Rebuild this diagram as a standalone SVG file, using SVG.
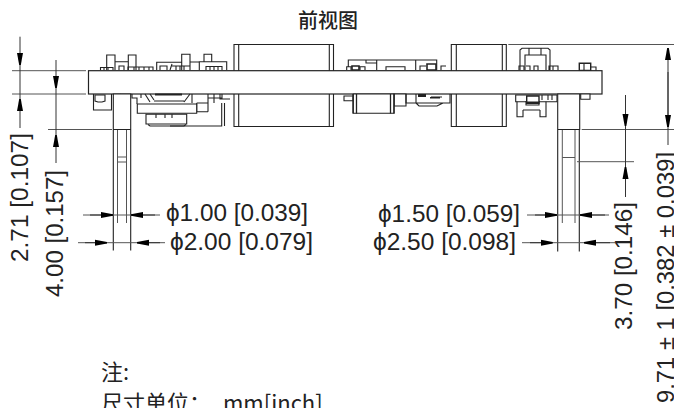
<svg xmlns="http://www.w3.org/2000/svg" width="674" height="408" viewBox="0 0 674 408">
<style>
.t{font-family:"Liberation Sans",Arial,sans-serif;font-size:23px;fill:#222}
.c{font-family:"Noto Sans CJK SC","Liberation Sans",sans-serif;font-size:22px;fill:#222}
.o{fill:#fff;stroke:#222;stroke-width:1.1}
.l{fill:none;stroke:#222;stroke-width:1.1}
.k{fill:#222;stroke:none}
.d{fill:none;stroke:#333;stroke-width:1}
.e{fill:none;stroke:#555;stroke-width:1}
</style>
<defs>
<marker id="a" markerUnits="userSpaceOnUse" markerWidth="14" markerHeight="8" refX="12" refY="4" orient="auto"><path d="M0 1L12 3.2V4.8L0 7Z" fill="#000"/></marker>
</defs>
<rect width="674" height="408" fill="#fff"/>
<g id="title"><text class="c" x="298" y="28" style="font-size:20px;font-weight:500">前视图</text></g>
<g id="capacitors">
<path class="o" d="M234 44.5H333.5V126.5H234Z"/>
<path class="l" d="M238.7 44.5V126.5M329.3 44.5V126.5"/>
<path class="o" d="M451.3 44.5H506.3V126.5H451.3Z"/>
<path class="l" d="M456.3 44.5V126.5M502.3 44.5V126.5"/>
</g>
<g id="top-components">
<path class="l" d="M106.7 70V55H115V70M128.3 70V55H136V70M115 61.7H128.3"/>
<path class="l" d="M100.5 70V67.5H113V70M104 67.5V70M108 67.5V70M119 70V66H124V70M128 70V67H153V70M134 67V70M139 67V70M144 67V70M149 67V70"/>
<path class="l" d="M156.7 70V62.3H181.7M181.7 70V54.3H190V70M204 62V54.3H211.7V62M190 62H199.3M199.3 70V61.7H226.7V70M160 70V66H167V70M170 70L172 64M172 66H190M176 70V66M180 70V66M184 70V66M206 70V66.5H222V70M210 66.5V70M214 66.5V70M218 66.5V70"/>
<path class="l" d="M348.3 67V60H436.7V70M366 60V63H376.7V70M376.7 60V63M386 70V66.7H405V70M415.7 60V70M420 70V66H426M346.7 70V66.7H365V70M351 66.7V70M360 66.7V70"/>
<path class="o" d="M352 66H359V70H352ZM427 64H436V70H427Z" style="stroke-width:1.6"/>
<path class="l" d="M441 70V66H446"/>
<path class="l" d="M520 70V50L522 48.3H548L550 50V70M525 70V55H546V70M529 55V48.3M541 55V48.3M526 66H530V70M534 70V66H538V70M549 70V66H558V70M553 66V70"/>
<path class="l" d="M519 70V66H524V70"/>
<path class="o" d="M579.3 63.3H590.7V70.5H579.3Z" style="stroke-width:1.4"/>
<path class="l" d="M584 63.3V70.5M590.7 67H596V70.5"/>
</g>
<g id="board"><rect class="o" x="88.5" y="70.7" width="513.5" height="23.3" style="stroke-width:1.2"/></g>
<g id="bottom-components">
<path class="l" d="M93.5 94V110H111.5V94"/>
<path class="o" d="M95 95H105V101L102 102H98L95 101Z"/>
<path class="l" d="M120 94L124 99M113 98H122M132 94V98H137V104M141 94V98M145 94L150 102M150 94L154 100M184 102L190 94M192 94V103M196.7 103H208V94M208 111.7H196.7V103M208 103V111.7M208 98H222V94M214 94V103M220 94V99H230M221.7 103V126H170M224.5 103V126M154 101H184"/>
<path class="o" d="M137.3 104H196.7V113.3H137.3Z"/>
<path class="o" d="M146 114.3H186.7V124H146Z"/>
<path class="l" d="M148 124.5L150 126H184L186 124.5M156 114.3V118M165 114.3V118M172 114.3V118"/>
<path class="k" d="M155 93.5H182V95.5H155Z"/>
<path class="o" d="M344 96H353.3V100.7H344Z"/>
<path class="o" d="M394 94H406V106H394Z"/>
<path class="o" d="M353.3 94H394V113.3H353.3Z"/>
<path class="l" d="M353 94V113.5M356.5 94V113.5M390.5 94V113.5M394 94V113.5" style="stroke-width:1.3"/>
<path class="l" d="M406 94V103H416V94M412 103H450V94M416 103L419 106H437L443 103M420 96H426M431 97H442"/>
<path class="k" d="M418 94H426V97H418ZM430 97H440V98.5H430Z"/>
<path class="o" d="M515.7 95H557V101.7H515.7Z"/>
<path class="l" d="M517 101.7V116.7H523V110M540 110V116.7H546V101.7M523 110H540M526 101V105H539V101"/>
<path class="o" d="M526.7 96H539V103.3H526.7Z" style="stroke-width:1.4"/>
<path class="k" d="M527 101.5H539V103.5H527Z"/>
<path class="l" d="M542 95V100M548 95V100M552 95V100"/>
<path class="o" d="M580.7 94H590V99.3H580.7Z"/>
</g>
<g id="pins">
<path class="o" d="M113.3 94H130.7V129.5H113.3Z"/>
<path class="o" d="M557.7 94H579.7V129.5H557.7Z"/>
<path class="l" d="M113.3 130V250.5M130.7 130V250.5"/>
<path class="e" d="M117.5 130V223M126.5 130V223M117.5 157H126.5M117.5 162H126.5"/>
<path class="l" d="M557.7 130V251.5M579.3 130V251.5"/>
<path class="e" d="M562.3 130V223M575 130V223M562.3 157.5H575"/>
</g>
<g id="connectors">
<path class="e" d="M12 70.7H86M12 94H86M48 129.5H112M581.7 129.5H674M508.3 44.5H674M577 161.7H634"/>
<path class="d" d="M20 36.7V65" marker-end="url(#a)"/>
<path class="d" d="M20 128V99" marker-end="url(#a)"/>
<path class="d" d="M20 65V99"/>
<path class="d" d="M56 60V88" marker-end="url(#a)"/>
<path class="d" d="M56 163V135" marker-end="url(#a)"/>
<path class="d" d="M56 88V135"/>
<path class="d" d="M625.5 95V126" marker-end="url(#a)"/>
<path class="d" d="M625.5 197V167" marker-end="url(#a)"/>
<path class="d" d="M625.5 126V167"/>
<path class="d" d="M668 127V48" marker-end="url(#a)"/>
<path class="d" d="M668 72V127" marker-end="url(#a)"/>
<path class="d" d="M668 127V145"/>
<path class="e" d="M83 215H160M78 242.7H165M527 215H609M522 242.7H615"/>
<path class="d" d="M90 215H113" marker-end="url(#a)"/>
<path class="d" d="M155 215H131" marker-end="url(#a)"/>
<path class="d" d="M85 242.7H107" marker-end="url(#a)"/>
<path class="d" d="M160 242.7H137" marker-end="url(#a)"/>
<path class="d" d="M535 215H557" marker-end="url(#a)"/>
<path class="d" d="M605 215H580" marker-end="url(#a)"/>
<path class="d" d="M530 242.7H552.7" marker-end="url(#a)"/>
<path class="d" d="M610 242.7H584" marker-end="url(#a)"/>
</g>
<g id="labels">
<text class="t" transform="translate(28 262) rotate(-90)" textLength="129" lengthAdjust="spacingAndGlyphs">2.71 [0.107]</text>
<text class="t" transform="translate(63 297) rotate(-90)" textLength="127" lengthAdjust="spacingAndGlyphs">4.00 [0.157]</text>
<text class="t" transform="translate(632 330) rotate(-90)" textLength="128" lengthAdjust="spacingAndGlyphs">3.70 [0.146]</text>
<text class="t" transform="translate(674 403) rotate(-90)" textLength="251" lengthAdjust="spacingAndGlyphs">9.71 ± 1 [0.382 ± 0.039]</text>
<text class="t" x="166" y="221" textLength="142" lengthAdjust="spacingAndGlyphs">ϕ1.00 [0.039]</text>
<text class="t" x="170" y="250" textLength="143" lengthAdjust="spacingAndGlyphs">ϕ2.00 [0.079]</text>
<text class="t" x="378" y="222" textLength="142" lengthAdjust="spacingAndGlyphs">ϕ1.50 [0.059]</text>
<text class="t" x="373" y="250" textLength="143" lengthAdjust="spacingAndGlyphs">ϕ2.50 [0.098]</text>
<text class="c" x="101" y="380">注:</text>
<text class="c" x="101" y="410.5">尺寸单位：<tspan x="223">mm[inch]</tspan></text>
</g>
</svg>
